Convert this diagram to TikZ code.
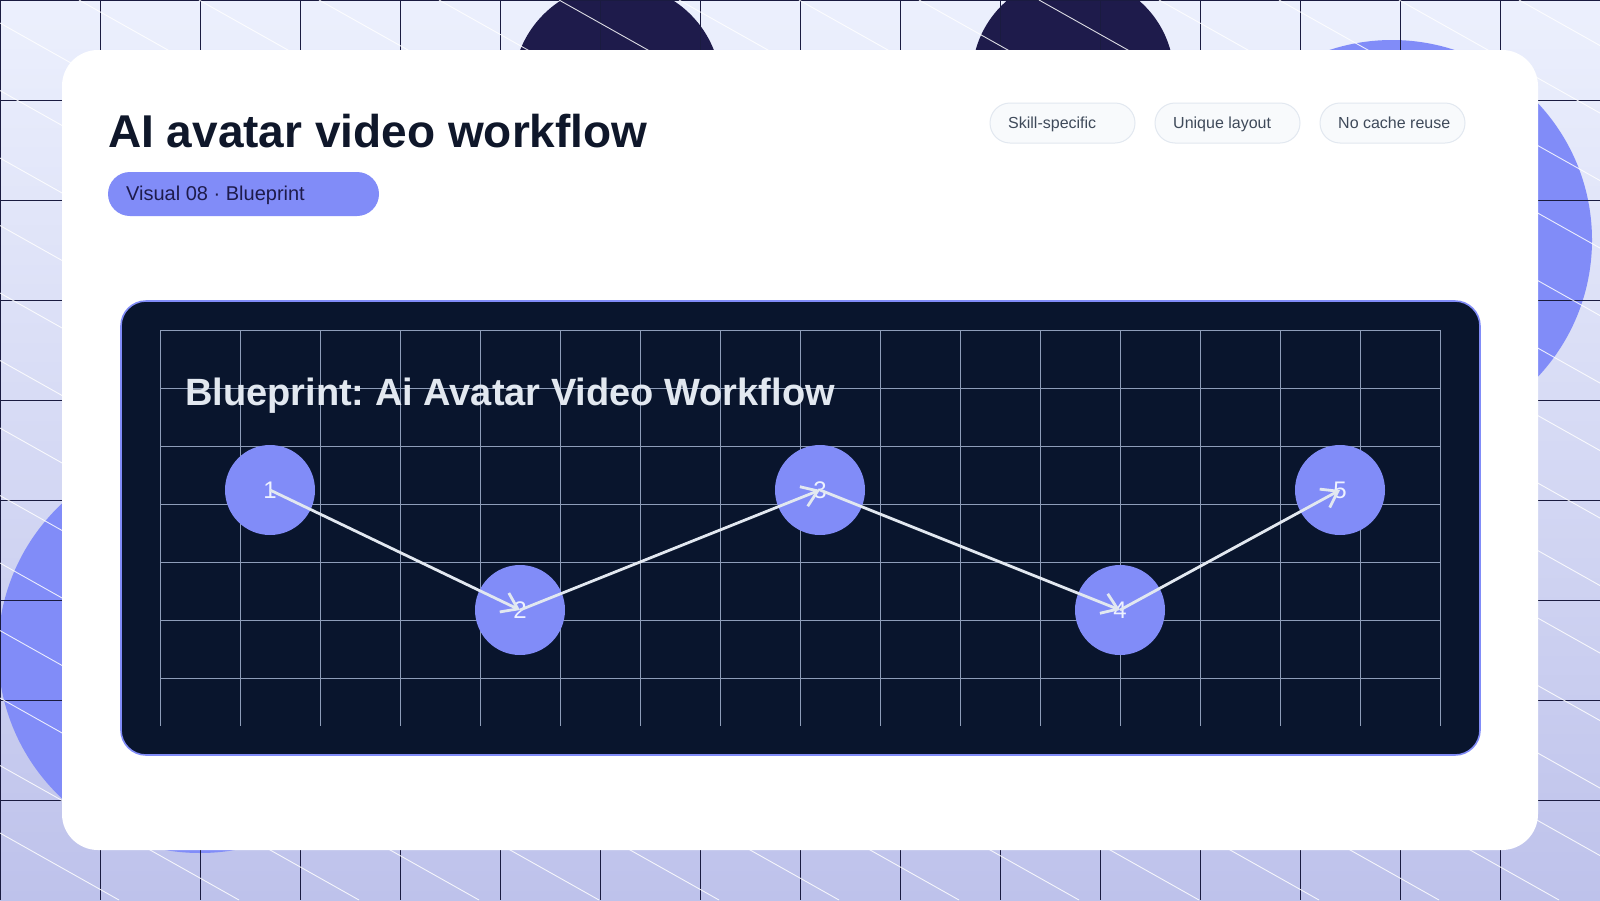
\documentclass[tikz,border=0pt]{standalone}
\usepackage{fontspec}
\setmainfont{Liberation Sans}
\usetikzlibrary{arrows.meta}
\definecolor{bgtop}{HTML}{ECF0FD}
\definecolor{bgbot}{HTML}{BEC2EB}
\definecolor{gridnavy}{HTML}{1A1B40}
\definecolor{darkcirc}{HTML}{1E1B4B}
\definecolor{indigo}{HTML}{818CF8}
\definecolor{panelnavy}{HTML}{09152D}
\definecolor{innergrid}{HTML}{8E9DB9}
\definecolor{titleink}{HTML}{0F172A}
\definecolor{tagfill}{HTML}{F8FAFC}
\definecolor{tagdraw}{HTML}{E2E8F0}
\definecolor{tagink}{HTML}{3F4A5A}
\definecolor{lightink}{HTML}{E2E8F0}
\definecolor{nodeink}{HTML}{EEF2FF}
\tikzset{
  bggrid/.style={draw=gridnavy, line width=1pt},
  bgdiag/.style={draw=white, line width=0.9pt, opacity=0.85},
  tagbox/.style={fill=tagfill, draw=tagdraw, line width=1pt, rounded corners=20pt},
  tagtext/.style={anchor=base west, inner sep=0pt, text=tagink, font=\fontsize{16}{19}\selectfont},
  stepnode/.style={circle, fill=indigo, minimum size=90pt, inner sep=0pt, text=nodeink, font=\fontsize{24}{28}\selectfont},
  flowarrow/.style={draw=lightink, line width=2.8pt, -{Straight Barb[length=15pt,width=21pt]}},
  innerline/.style={draw=innergrid, line width=1pt}
}
\frenchspacing
\begin{document}
\begin{tikzpicture}[x=1pt,y=-1pt]
\useasboundingbox (0,0) rectangle (1600,900);
% background
\begin{scope}
\clip (0,0) rectangle (1600,900);
\shade[top color=bgtop, bottom color=bgbot] (0,0) rectangle (1600,900);
\fill[darkcirc] (617,88) circle [radius=104];
\fill[darkcirc] (1073,77) circle [radius=101];
\fill[indigo] (1392,240) circle [radius=200];
\fill[indigo] (200,651) circle [radius=202];
\foreach \gx in {0,100,...,1500} { \draw[bggrid] (\gx,0) -- (\gx,900); }
\foreach \gy in {0,100,...,800} { \draw[bggrid] (0,\gy) -- (1600,\gy); }
\foreach \k in {-14,...,13} { \draw[bgdiag] (79+120*\k,0) -- (79+120*\k+1600,900); }
\end{scope}
% card
\fill[white, rounded corners=36pt] (62,50) rectangle (1538,850);
% title
\node[anchor=base west, inner sep=0pt, text=titleink, font=\fontsize{46}{52}\selectfont\bfseries] (title) at (108,147) {AI avatar video workflow};
% subtitle pill
\fill[indigo, rounded corners=22pt] (108,172) rectangle (379,216);
\node[anchor=base west, inner sep=0pt, text=darkcirc, font=\fontsize{20}{24}\selectfont] (sub) at (126,200) {Visual 08 · Blueprint};
% tags
\draw[tagbox] (990,103) rectangle (1135,143);
\node[tagtext] (tag1) at (1008,128) {Skill-specific};
\draw[tagbox] (1155,103) rectangle (1300,143);
\node[tagtext] (tag2) at (1173,128) {Unique layout};
\draw[tagbox] (1320,103) rectangle (1465,143);
\node[tagtext] (tag3) at (1338,128) {No cache reuse};
% panel
\draw[fill=panelnavy, draw=indigo, line width=1.6pt, rounded corners=25pt] (121,301) rectangle (1480,755);
\foreach \ix in {160,240,...,1440} { \draw[innerline] (\ix,330) -- (\ix,726); }
\foreach \iy in {330,388,...,680} { \draw[innerline] (160,\iy) -- (1440,\iy); }
\node[anchor=base west, inner sep=0pt, text=lightink, font=\fontsize{38}{44}\selectfont\bfseries] (ptitle) at (185,405) {Blueprint: Ai Avatar Video Workflow};
% nodes
\node[stepnode] (n1) at (270,490) {1};
\node[stepnode] (n2) at (520,610) {2};
\node[stepnode] (n3) at (820,490) {3};
\node[stepnode] (n4) at (1120,610) {4};
\node[stepnode] (n5) at (1340,490) {5};
% connectors
\draw[flowarrow] (n1.center) -- (n2.center);
\draw[flowarrow] (n2.center) -- (n3.center);
\draw[flowarrow] (n3.center) -- (n4.center);
\draw[flowarrow] (n4.center) -- (n5.center);
\end{tikzpicture}
\end{document}
